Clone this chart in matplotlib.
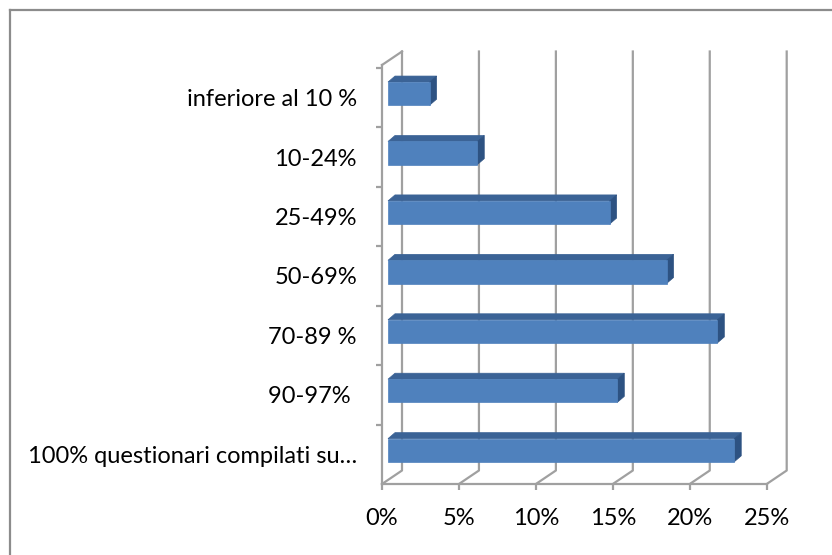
import matplotlib
matplotlib.use("Agg")
import matplotlib.pyplot as plt
from matplotlib.patches import Polygon
from matplotlib.lines import Line2D
from matplotlib.transforms import IdentityTransform
import numpy as np

# dati (percentuali)
categories = ["inferiore al 10 %", "10-24%", "25-49%", "50-69%",
              "70-89 %", "90-97% ", "100% questionari compilati su\u2026"]
values = [2.7, 5.8, 14.4, 18.1, 21.4, 14.9, 22.5]
xticks = [0, 5, 10, 15, 20, 25]
xtick_labels = ["0%", "5%", "10%", "15%", "20%", "25%"]

plt.rcParams['font.family'] = ['Lato', 'DejaVu Sans']

W, H, DPI = 832, 555, 100
fig = plt.figure(figsize=(W / DPI, H / DPI), dpi=DPI)

# piano frontale del grafico 3D
left, right, top, bottom = 382, 766.7, 65, 484
ax = fig.add_axes([left / W, 1 - bottom / H, (right - left) / W, (bottom - top) / H])
ax.set_xlim(0, 25)
ax.set_ylim(len(categories) - 0.5, -0.55)
ax.patch.set_alpha(0)

grid_col = "#a0a0a0"
for s in ["top", "right"]:
  ax.spines[s].set_visible(False)
for s in ["left", "bottom"]:
  ax.spines[s].set_color(grid_col)
  ax.spines[s].set_linewidth(1.6)

ax.set_xticks(xticks)
ax.set_xticklabels(xtick_labels, fontsize=17)
ax.set_yticks(range(len(categories)))
ax.set_yticklabels(categories, fontsize=17)
ax.set_yticks(np.arange(-0.5, len(categories) - 0.5, 1), minor=True)
ax.tick_params(axis="y", which="major", length=0, pad=18)
ax.tick_params(axis="y", which="minor", length=4.5, width=1.6, color=grid_col)
ax.tick_params(axis="x", length=4.5, width=1.6, color=grid_col, pad=13)

# profondità (pixel) del piano posteriore
DX, DY = 20.0, 13.5

def disp(x, y, d, ddx=DX, ddy=DY):
  px, py = ax.transData.transform((x, y))
  return (px + d * ddx, py + d * ddy)

y_bot = len(categories) - 0.5
y_top = -0.55

# griglia: pareti posteriori e diagonali del pavimento
for xv in xticks:
  a = disp(xv, y_bot, 0)
  b = disp(xv, y_bot, 1)
  c = disp(xv, y_top, 1)
  ax.add_line(Line2D([a[0], b[0], c[0]], [a[1], b[1], c[1]], color=grid_col,
                     lw=1.6, transform=IdentityTransform(), clip_on=False, zorder=1))
# bordo superiore della parete sinistra
a = disp(0, y_top, 0)
b = disp(0, y_top, 1)
ax.add_line(Line2D([a[0], b[0]], [a[1], b[1]], color=grid_col, lw=1.6,
                   transform=IdentityTransform(), clip_on=False, zorder=1))

# barre 3D
bh = 0.39
d0 = 0.3
BX, BY = 7.0, 6.0   # spessore visibile della barra
front_col, top_col, side_col = "#4f81bd", "#3b6396", "#2d5282"
for i, v in enumerate(values):
  y0, y1 = i - bh / 2, i + bh / 2
  f = [disp(0, y1, d0), disp(v, y1, d0), disp(v, y0, d0), disp(0, y0, d0)]
  back = lambda p: (p[0] + BX, p[1] + BY)
  topf = [f[3], f[2], back(f[2]), back(f[3])]
  side = [f[2], f[1], back(f[1]), back(f[2])]
  for pts, col in [(topf, top_col), (side, side_col), (f, front_col)]:
    ax.add_patch(Polygon(pts, closed=True, facecolor=col, edgecolor=col, lw=0.5,
                         transform=IdentityTransform(), clip_on=False, zorder=3))

# cornice del grafico
fig.add_artist(Line2D([10 / W, 10 / W], [0, 1 - 10 / H], color="#8c8c8c", lw=1.6,
                      transform=fig.transFigure))
fig.add_artist(Line2D([10 / W, 1], [1 - 10 / H, 1 - 10 / H], color="#8c8c8c", lw=1.6,
                      transform=fig.transFigure))

fig.savefig("out.png", dpi=DPI)
